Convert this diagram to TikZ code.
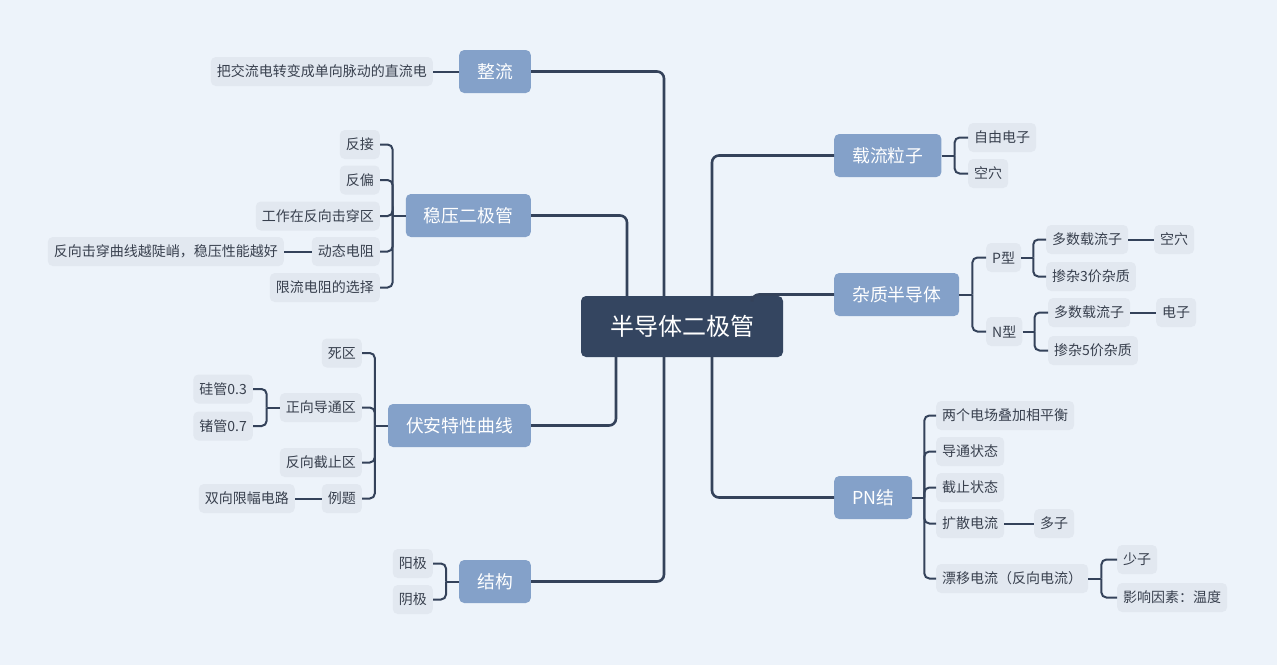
\documentclass[tikz,border=0pt]{standalone}
\usepackage{fontspec}
\newfontfamily\cjkfont{Noto Sans CJK SC}
\usetikzlibrary{positioning}
\definecolor{bgblue}{RGB}{237,243,250}
\definecolor{rootnavy}{RGB}{52,69,96}
\definecolor{branchblue}{RGB}{132,161,201}
\definecolor{leafgray}{RGB}{226,232,240}
\definecolor{inkslate}{RGB}{52,66,90}
\definecolor{leaftext}{RGB}{56,64,78}

\begin{document}
\begin{tikzpicture}[
    x=1pt, y=-1pt,
    root/.style  ={fill=rootnavy, text=white, rounded corners=5pt, minimum height=61pt, inner xsep=29pt, font=\cjkfont\fontsize{24}{28}\selectfont},
    branch/.style={fill=branchblue, text=white, rounded corners=5pt, minimum height=43pt, inner xsep=18pt, font=\cjkfont\fontsize{17.8}{21}\selectfont},
    leaf/.style  ={fill=leafgray, text=leaftext, rounded corners=5pt, minimum height=29pt, inner xsep=6pt, font=\cjkfont\fontsize{14}{17}\selectfont},
    trunk/.style ={draw=inkslate, line width=2.6pt, rounded corners=7pt},
    twig/.style  ={draw=inkslate, line width=2pt, rounded corners=5pt},
  ]
  \useasboundingbox[fill=bgblue] (0,0) rectangle (1277,665);
  % centre
  \node[root] (root) at (682,326.5) {半导体二极管};
  % main branches, left side ends at x=531, right side starts at x=834
  \node[branch, anchor=east] (zl)  at (531, 71.5)  {整流};
  \node[branch, anchor=east] (wy)  at (531,215.5)  {稳压二极管};
  \node[branch, anchor=east] (fa)  at (531,425.5)  {伏安特性曲线};
  \node[branch, anchor=east] (jg)  at (531,581.5)  {结构};
  \node[branch, anchor=west] (zlz) at (834,155.5)  {载流粒子};
  \node[branch, anchor=west] (zz)  at (834,294.5)  {杂质半导体};
  \node[branch, anchor=west] (pn)  at (834,497.5)  {PN结};
  % trunks out of the centre
  \draw[trunk] ([xshift=-18pt]root.north) |- (zl.east);
  \draw[trunk] ([xshift=-55pt]root.north) |- (wy.east);
  \draw[trunk] ([xshift=-66pt]root.south) |- (fa.east);
  \draw[trunk] ([xshift=-18pt]root.south) |- (jg.east);
  \draw[trunk] ([xshift=30pt]root.north)  |- (zlz.west);
  \draw[trunk] ([xshift=70pt]root.north)  |- (zz.west);
  \draw[trunk] ([xshift=30pt]root.south)  |- (pn.west);

  % 整流
  \node[leaf, anchor=east] (zl-a) at (433,71.5) {把交流电转变成单向脉动的直流电};
  \draw[twig] (zl.west) -- (zl-a.east);

  % 稳压二极管
  \node[leaf, anchor=east] (wy-fj)   at (380,144.5) {反接};
  \node[leaf, anchor=east] (wy-fp)   at (380,180)   {反偏};
  \node[leaf, anchor=east] (wy-gz)   at (380,216)   {工作在反向击穿区};
  \node[leaf, anchor=east] (wy-dt)   at (380,251.5) {动态电阻};
  \node[leaf, anchor=east] (wy-xl)   at (380,287.5) {限流电阻的选择};
  \node[leaf, anchor=east] (wy-dt-a) at (284,251.5) {反向击穿曲线越陡峭，稳压性能越好};
  \draw[twig] (wy.west) -- ++(-13,0) coordinate (wy-s);
  \foreach \c in {fj,fp,gz,dt,xl}
    \draw[twig] (wy-s) |- (wy-\c.east);
  \draw[twig] (wy-dt.west) -- (wy-dt-a.east);

  % 伏安特性曲线
  \node[leaf, anchor=east] (fa-sq)    at (362,353)   {死区};
  \node[leaf, anchor=east] (fa-zx)    at (362,407.5) {正向导通区};
  \node[leaf, anchor=east] (fa-fx)    at (362,462.5) {反向截止区};
  \node[leaf, anchor=east] (fa-lt)    at (362,498.5) {例题};
  \node[leaf, anchor=east] (fa-lt-a)  at (295,498.5) {双向限幅电路};
  \node[leaf, anchor=east] (fa-zx-si) at (253,389)   {硅管0.3};
  \node[leaf, anchor=east] (fa-zx-ge) at (253,426)   {锗管0.7};
  \draw[twig] (fa.west) -- ++(-13,0) coordinate (fa-s);
  \foreach \c in {sq,zx,fx,lt}
    \draw[twig] (fa-s) |- (fa-\c.east);
  \draw[twig] (fa-zx.west) -- ++(-13,0) coordinate (fa-zx-s);
  \foreach \c in {si,ge}
    \draw[twig] (fa-zx-s) |- (fa-zx-\c.east);
  \draw[twig] (fa-lt.west) -- (fa-lt-a.east);

  % 结构
  \node[leaf, anchor=east] (jg-yang) at (433,563.5) {阳极};
  \node[leaf, anchor=east] (jg-yin)  at (433,599.5) {阴极};
  \draw[twig] (jg.west) -- ++(-13,0) coordinate (jg-s);
  \foreach \c in {yang,yin}
    \draw[twig] (jg-s) |- (jg-\c.east);

  % 载流粒子
  \node[leaf, anchor=west] (zlz-zy) at (968,137.5) {自由电子};
  \node[leaf, anchor=west] (zlz-kx) at (968,173.5) {空穴};
  \draw[twig] (zlz.east) -- ++(13,0) coordinate (zlz-s);
  \foreach \c in {zy,kx}
    \draw[twig] (zlz-s) |- (zlz-\c.west);

  % 杂质半导体
  \node[leaf, anchor=west] (zz-p)    at (986,257.5)  {P型};
  \node[leaf, anchor=west] (zz-n)    at (986,331.5)  {N型};
  \node[leaf, anchor=west] (zz-p-dz) at (1046,239.5) {多数载流子};
  \node[leaf, anchor=west] (zz-p-cz) at (1046,276.5) {掺杂3价杂质};
  \node[leaf, anchor=west] (zz-p-kx) at (1154,239.5) {空穴};
  \node[leaf, anchor=west] (zz-n-dz) at (1048,312.5) {多数载流子};
  \node[leaf, anchor=west] (zz-n-cz) at (1048,350.5) {掺杂5价杂质};
  \node[leaf, anchor=west] (zz-n-dy) at (1156,312.5) {电子};
  \draw[twig] (zz.east) -- ++(13,0) coordinate (zz-s);
  \foreach \c in {p,n}
    \draw[twig] (zz-s) |- (zz-\c.west);
  \draw[twig] (zz-p.east) -- ++(12,0) coordinate (zz-p-s);
  \foreach \c in {dz,cz}
    \draw[twig] (zz-p-s) |- (zz-p-\c.west);
  \draw[twig] (zz-n.east) -- ++(12,0) coordinate (zz-n-s);
  \foreach \c in {dz,cz}
    \draw[twig] (zz-n-s) |- (zz-n-\c.west);
  \draw[twig] (zz-p-dz.east) -- (zz-p-kx.west);
  \draw[twig] (zz-n-dz.east) -- (zz-n-dy.west);

  % PN结
  \node[leaf, anchor=west] (pn-ph)    at (936,415.5)  {两个电场叠加相平衡};
  \node[leaf, anchor=west] (pn-dt)    at (936,451.5)  {导通状态};
  \node[leaf, anchor=west] (pn-jz)    at (936,487.5)  {截止状态};
  \node[leaf, anchor=west] (pn-ks)    at (936,523.5)  {扩散电流};
  \node[leaf, anchor=west] (pn-ks-a)  at (1034,523.5) {多子};
  \node[leaf, anchor=west] (pn-py)    at (936,578.5)  {漂移电流（反向电流）};
  \node[leaf, anchor=west] (pn-py-sz) at (1117,559.5) {少子};
  \node[leaf, anchor=west] (pn-py-yx) at (1117,597.5) {影响因素：温度};
  \draw[twig] (pn.east) -- ++(12,0) coordinate (pn-s);
  \foreach \c in {ph,dt,jz,ks,py}
    \draw[twig] (pn-s) |- (pn-\c.west);
  \draw[twig] (pn-ks.east) -- (pn-ks-a.west);
  \draw[twig] (pn-py.east) -- ++(13,0) coordinate (pn-py-s);
  \foreach \c in {sz,yx}
    \draw[twig] (pn-py-s) |- (pn-py-\c.west);
\end{tikzpicture}
\end{document}
